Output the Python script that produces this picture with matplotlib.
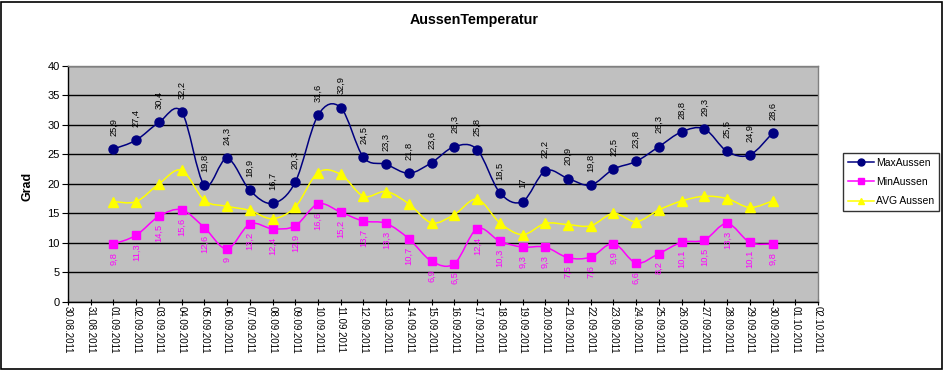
import matplotlib
matplotlib.use("Agg")
import matplotlib.pyplot as plt
import matplotlib.dates as mdates
from matplotlib.path import Path
from matplotlib.patches import PathPatch, Rectangle
from matplotlib.lines import Line2D
from datetime import datetime
import numpy as np

plt.rcParams['font.family'] = ['Liberation Sans', 'DejaVu Sans']

title = "AussenTemperatur"
ylabel = "Grad"
dates = ["01.09.2011", "02.09.2011", "03.09.2011", "04.09.2011", "05.09.2011",
         "06.09.2011", "07.09.2011", "08.09.2011", "09.09.2011", "10.09.2011",
         "11.09.2011", "12.09.2011", "13.09.2011", "14.09.2011", "15.09.2011",
         "16.09.2011", "17.09.2011", "18.09.2011", "19.09.2011", "20.09.2011",
         "21.09.2011", "22.09.2011", "23.09.2011", "24.09.2011", "25.09.2011",
         "26.09.2011", "27.09.2011", "28.09.2011", "29.09.2011", "30.09.2011"]
max_aussen = [25.9, 27.4, 30.4, 32.2, 19.8, 24.3, 18.9, 16.7, 20.3, 31.6,
              32.9, 24.5, 23.3, 21.8, 23.6, 26.3, 25.8, 18.5, 17.0, 22.2,
              20.9, 19.8, 22.5, 23.8, 26.3, 28.8, 29.3, 25.5, 24.9, 28.6]
min_aussen = [9.8, 11.3, 14.5, 15.6, 12.6, 9.0, 13.2, 12.4, 12.9, 16.6,
              15.2, 13.7, 13.3, 10.7, 6.9, 6.5, 12.4, 10.3, 9.3, 9.3,
              7.5, 7.6, 9.9, 6.6, 8.2, 10.1, 10.5, 13.3, 10.1, 9.8]
avg_aussen = [17.0, 17.0, 20.0, 22.3, 17.2, 16.2, 15.5, 14.1, 16.1, 21.9,
              21.6, 17.9, 18.7, 16.6, 13.4, 14.8, 17.4, 13.4, 11.4, 13.3,
              13.1, 12.9, 15.0, 13.6, 15.6, 17.1, 17.9, 17.5, 16.0, 17.1]
x_start, x_end = "30.08.2011", "02.10.2011"

def to_num(s):
    return mdates.date2num(datetime.strptime(s, "%d.%m.%Y"))

xs = np.array([to_num(d) for d in dates])

fig = plt.figure(figsize=(9.46, 3.71), dpi=100)
fig.patch.set_facecolor('white')
ax = fig.add_axes([68/946, 1-302/371, 750/946, (302-65.7)/371])
ax.set_facecolor('#C0C0C0')
for sp in ax.spines.values():
    sp.set_color('#808080')
    sp.set_linewidth(1)
ax.spines['left'].set_color('black')
ax.spines['bottom'].set_color('black')

ax.set_xlim(to_num(x_start), to_num(x_end))
ax.set_ylim(0, 40)
ax.set_yticks(range(0, 41, 5))
ax.yaxis.grid(True, color='black', linewidth=1)
ax.set_axisbelow(True)
ax.xaxis.set_major_locator(mdates.DayLocator())
ax.xaxis.set_major_formatter(mdates.DateFormatter('%d.%m.%Y'))
ax.tick_params(axis='x', labelrotation=270, labelsize=7, length=4, direction='inout', pad=1)
ax.tick_params(axis='y', labelsize=8, length=4, direction='out', pad=2)
for lab in ax.get_xticklabels():
    lab.set_va('top')
    lab.set_ha('center')

def smooth_path(x, y):
    pts = np.column_stack([x, y])
    n = len(pts)
    verts = [pts[0]]
    codes = [Path.MOVETO]
    for i in range(n - 1):
        p0 = pts[i - 1] if i > 0 else pts[i]
        p1 = pts[i]
        p2 = pts[i + 1]
        p3 = pts[i + 2] if i + 2 < n else pts[i + 1]
        c1 = p1 + (p2 - p0) / 6.0
        c2 = p2 - (p3 - p1) / 6.0
        verts += [c1, c2, p2]
        codes += [Path.CURVE4] * 3
    return Path(verts, codes)

series = [
    (max_aussen, '#000080', 'o', 6.5, "MaxAussen"),
    (min_aussen, '#FF00FF', 's', 6.3, "MinAussen"),
    (avg_aussen, '#FFFF00', '^', 6.5, "AVG Aussen"),
]
handles = []
for vals, col, mk, ms, name in series:
    ax.add_patch(PathPatch(smooth_path(xs, np.array(vals)), facecolor='none',
                           edgecolor=col, linewidth=1.1, zorder=3))
    ax.plot(xs, vals, linestyle='none', marker=mk, markersize=ms,
            color=col, markeredgecolor=col, zorder=4, clip_on=False)
    handles.append(Line2D([], [], color=col, marker=mk, markersize=5, linewidth=1.1, label=name))

for x, v in zip(xs, max_aussen):
    ax.annotate(f"{v:g}".replace('.', ','), (x, v), xytext=(0, 9.5), textcoords='offset points',
                rotation=90, ha='center', va='bottom', fontsize=6.7, color='black', zorder=5)
for x, v in zip(xs, min_aussen):
    ax.annotate(f"{v:g}".replace('.', ','), (x, v), xytext=(0, -5.5), textcoords='offset points',
                rotation=90, ha='center', va='top', fontsize=6.7, color='#FF00FF', zorder=5)

fig.text(474/946, 1-20/371, title, ha='center', va='center', fontsize=10.3, fontweight='bold')
fig.text(27/946, 1-186/371, ylabel, ha='center', va='center', rotation=90, fontsize=9, fontweight='bold')

leg = fig.legend(handles=handles, loc='upper left', bbox_to_anchor=(843/946, 1-153/371),
                 frameon=True, fancybox=False, shadow=False, fontsize=7.5,
                 handlelength=2.5, handletextpad=0.25, labelspacing=0.9,
                 borderpad=0.45, borderaxespad=0)
leg.get_frame().set_edgecolor('black')
leg.get_frame().set_linewidth(1)

fig.add_artist(Rectangle((1/946, 2/371), 941/946, 367/371, transform=fig.transFigure,
                         fill=False, edgecolor='black', linewidth=1.2))

fig.savefig("out.png", dpi=100)
